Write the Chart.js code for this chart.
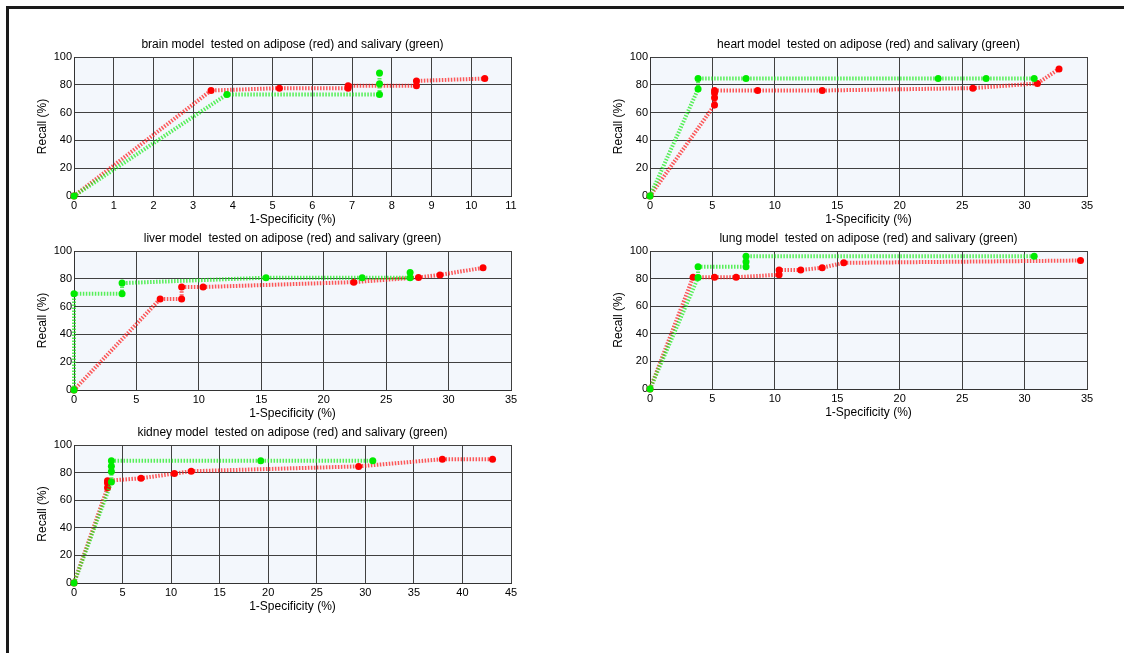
<!DOCTYPE html>
<html>
<head>
<meta charset="utf-8">
<script src="https://cdn.jsdelivr.net/npm/chart.js@4.4.0/dist/chart.umd.min.js"></script>
<style>
  body { margin: 0; background: #fff; }
  #page { position: relative; width: 1124px; height: 653px; overflow: hidden; background: #fff; }
  #frame { position: absolute; left: 6px; top: 6px; width: 1130px; height: 660px;
           border-top: 3px solid #1a1a1a; border-left: 3px solid #1a1a1a; }
  canvas { position: absolute; }
</style>
</head>
<body>
<div id="page"><div id="frame"></div></div>
<script>
// panels, x axis range per panel
const organs = ["brain", "heart", "liver", "lung", "kidney"];
const xMaxes = [11, 35, 35, 35, 45];
const xSteps = [1, 5, 5, 5, 5];
const yMax = 100;
const yStep = 20;

// red = tested on adipose, green = tested on salivary
const brainRedX = [0, 3.45, 5.17, 6.90, 6.90, 8.62, 8.62, 10.34];
const brainRedY = [0, 75.9, 77.6, 77.6, 79.3, 79.3, 82.8, 84.5];
const brainGreenX = [0, 3.85, 7.69, 7.69, 7.69];
const brainGreenY = [0, 73.1, 73.1, 80.8, 88.5];

const heartRedX = [0, 5.17, 5.17, 5.17, 5.17, 8.62, 13.79, 25.86, 31.03, 32.76];
const heartRedY = [0, 65.5, 70.7, 74.1, 75.9, 75.9, 75.9, 77.6, 81.0, 91.4];
const heartGreenX = [0, 3.85, 3.85, 7.69, 23.08, 26.92, 30.77];
const heartGreenY = [0, 76.9, 84.6, 84.6, 84.6, 84.6, 84.6];

const liverRedX = [0, 6.90, 8.62, 8.62, 10.34, 22.41, 27.59, 29.31, 32.76];
const liverRedY = [0, 65.5, 65.5, 74.1, 74.1, 77.6, 81.0, 82.8, 87.9];
const liverGreenX = [0, 0, 3.85, 3.85, 15.38, 23.08, 26.92, 26.92];
const liverGreenY = [0, 69.2, 69.2, 76.9, 80.8, 80.8, 80.8, 84.6];

const lungRedX = [0, 3.45, 5.17, 6.90, 10.34, 10.34, 12.07, 13.79, 15.52, 34.48];
const lungRedY = [0, 81.0, 81.0, 81.0, 82.8, 86.2, 86.2, 87.9, 91.4, 93.1];
const lungGreenX = [0, 3.85, 3.85, 7.69, 7.69, 7.69, 30.77];
const lungGreenY = [0, 80.8, 88.5, 88.5, 92.3, 96.2, 96.2];

const kidneyRedX = [0, 3.45, 3.45, 3.45, 6.90, 10.34, 12.07, 29.31, 37.93, 43.10];
const kidneyRedY = [0, 69.0, 72.4, 74.1, 75.9, 79.3, 81.0, 84.5, 89.7, 89.7];
const kidneyGreenX = [0, 3.85, 3.85, 3.85, 3.85, 19.23, 30.77];
const kidneyGreenY = [0, 73.1, 80.8, 84.6, 88.5, 88.5, 88.5];

const redX = [brainRedX, heartRedX, liverRedX, lungRedX, kidneyRedX];
const redY = [brainRedY, heartRedY, liverRedY, lungRedY, kidneyRedY];
const greenX = [brainGreenX, heartGreenX, liverGreenX, lungGreenX, kidneyGreenX];
const greenY = [brainGreenY, heartGreenY, liverGreenY, lungGreenY, kidneyGreenY];

// plot area boxes on the page: left, top, right, bottom
const boxes = [
  [74, 57, 511, 196],
  [650, 57, 1087, 196],
  [74, 251, 511, 390],
  [650, 251, 1087, 389],
  [74, 445, 511, 583],
];

const AXIS_W = 54, TITLE_H = 27, XAXIS_H = 32, PAD_R = 22;
const family = "'Liberation Sans', Arial, sans-serif";
const tickFont = { family: family, size: 11, weight: "normal", lineHeight: 1.2 };
const textFont = { family: family, size: 12, weight: "normal", lineHeight: 1.2 };

const plotBg = {
  id: "plotBg",
  beforeDraw(chart) {
    const a = chart.chartArea, ctx = chart.ctx;
    ctx.save();
    ctx.fillStyle = "#f3f7fc";
    ctx.fillRect(a.left, a.top, a.right - a.left, a.bottom - a.top);
    ctx.restore();
  },
};

const series = (xs, ys, dot, line, order) => ({
  data: xs.map((x, i) => ({ x: x, y: ys[i] })),
  showLine: true,
  borderColor: line,
  borderWidth: 4,
  borderDash: [1.5, 1.5],
  pointRadius: 3.5,
  pointBackgroundColor: dot,
  pointBorderWidth: 0,
  order: order,
  clip: 4,
});

organs.forEach((organ, i) => {
  const [L, T, R, B] = boxes[i];
  const cv = document.createElement("canvas");
  const w = R - L + AXIS_W + PAD_R;
  const h = B - T + TITLE_H + XAXIS_H;
  cv.width = w; cv.height = h;
  cv.style.left = (L - AXIS_W) + "px";
  cv.style.top = (T - TITLE_H) + "px";
  cv.style.width = w + "px";
  cv.style.height = h + "px";
  document.getElementById("page").appendChild(cv);

  new Chart(cv, {
    type: "scatter",
    data: {
      datasets: [
        series(redX[i], redY[i], "rgb(255,0,0)", "rgba(255,25,25,0.72)", 1),
        series(greenX[i], greenY[i], "rgb(0,235,0)", "rgba(25,235,25,0.72)", 0),
      ],
    },
    plugins: [plotBg],
    options: {
      responsive: false,
      animation: false,
      devicePixelRatio: 1,
      layout: { padding: { left: 0, right: PAD_R, top: 0, bottom: 0 } },
      plugins: {
        legend: { display: false },
        tooltip: { enabled: false },
        title: {
          display: true,
          text: organ + " model  tested on adipose (red) and salivary (green)",
          color: "#000",
          font: textFont,
          fullSize: false,
          padding: { top: 7, bottom: 5.6 },
        },
      },
      scales: {
        x: {
          type: "linear",
          min: 0,
          max: xMaxes[i],
          ticks: { stepSize: xSteps[i], color: "#000", font: tickFont, padding: 3, maxRotation: 0 },
          grid: { color: "#404040", drawTicks: false },
          border: { color: "#333" },
          title: { display: true, text: "1-Specificity (%)", color: "#000", font: textFont, padding: { top: 0, bottom: 1 } },
          afterFit(s) { s.height = XAXIS_H; },
        },
        y: {
          min: 0,
          max: yMax,
          ticks: { stepSize: yStep, color: "#000", font: tickFont, padding: 2 },
          grid: { color: "#404040", drawTicks: false },
          border: { color: "#333" },
          title: { display: true, text: "Recall (%)", color: "#000", font: textFont, padding: { top: 15, bottom: 0 } },
          afterFit(s) { s.width = AXIS_W; },
        },
      },
    },
  });
});
</script>
</body>
</html>
